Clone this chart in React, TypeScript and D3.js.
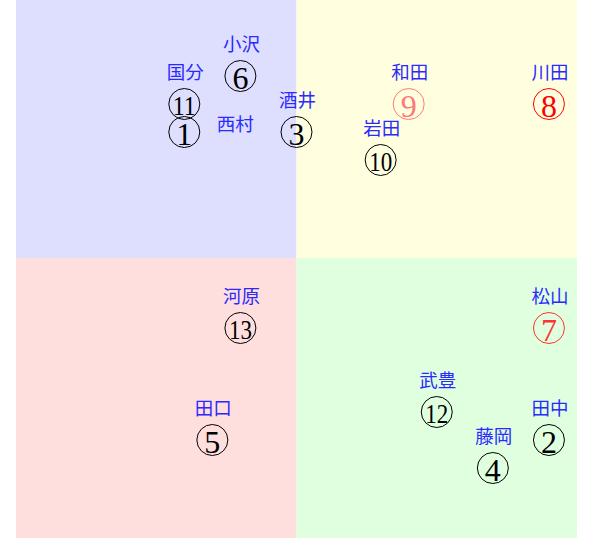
import React from "react";
import * as d3 from "d3";

const W = 589,
  H = 538;

// riders: number, name, x value, y value
const nums = [1, 2, 3, 4, 5, 6, 7, 8, 9, 10, 11, 12, 13];
const names = ["西村", "田中", "酒井", "藤岡", "田口", "小沢", "松山", "川田", "和田", "岩田", "国分", "武豊", "河原"];
const xVals = [-2, 4.5, 0, 3.5, -1.5, -1, 4.5, 4.5, 2, 1.5, -2, 2.5, -1];
const yVals = [2.25, -3.25, 2.25, -3.75, -3.25, 3.25, -1.25, 2.75, 2.75, 1.75, 2.75, -2.75, -1.25];
const markColors = ["#000", "#000", "#000", "#000", "#000", "#000", "#f33", "#f00", "#f77", "#000", "#000", "#000", "#000"];

// quadrant fills, in data units
const quadrants = [
  { x: [-5, 0], y: [0, 5], fill: "#dedeff" },
  { x: [0, 5], y: [0, 5], fill: "#ffffe0" },
  { x: [-5, 0], y: [-5, 0], fill: "#ffdede" },
  { x: [0, 5], y: [-5, 0], fill: "#dfffdf" },
];

const x = d3.scaleLinear().domain([-5, 5]).range([16, 577]);
const y = d3.scaleLinear().domain([-5, 5]).range([538, -22]);

export default function App() {
  const data = nums.map((n, i) => ({
    n,
    name: names[i],
    x: xVals[i],
    y: yVals[i],
    color: markColors[i],
  }));

  return (
    <svg
      width={W}
      height={H}
      style={{ position: "fixed", left: 0, top: 0, background: "#fff" }}
    >
      {quadrants.map((q, i) => (
        <rect
          key={i}
          x={x(q.x[0])}
          y={y(q.y[1])}
          width={x(q.x[1]) - x(q.x[0])}
          height={y(q.y[0]) - y(q.y[1])}
          fill={q.fill}
        />
      ))}
      {data.map(d => {
        const cx = x(d.x),
          cy = y(d.y);
        // 西村 sits under 国分's mark, so its label is pushed aside
        const lx = d.n === 1 ? cx + 51 : cx + 1;
        const ly = d.n === 1 ? cy - 9 : cy - 33;
        const two = d.n > 9;
        return (
          <g key={d.n}>
            <text
              x={lx}
              y={ly}
              textAnchor="middle"
              dominantBaseline="central"
              fontFamily="'Noto Sans CJK JP', sans-serif"
              fontSize={18.5}
              fill="#2a2aff"
            >
              {d.name}
            </text>
            <circle cx={cx} cy={cy} r={15.5} fill="none" stroke={d.color} strokeWidth={1} />
            <text
              x={cx}
              y={cy + 1.5}
              textAnchor="middle"
              dominantBaseline="central"
              fontFamily="'Liberation Serif', serif"
              fontSize={two ? 27 : 32}
              fill={d.color}
              textLength={two ? 23 : undefined}
              lengthAdjust="spacingAndGlyphs"
            >
              {d.n}
            </text>
          </g>
        );
      })}
    </svg>
  );
}
